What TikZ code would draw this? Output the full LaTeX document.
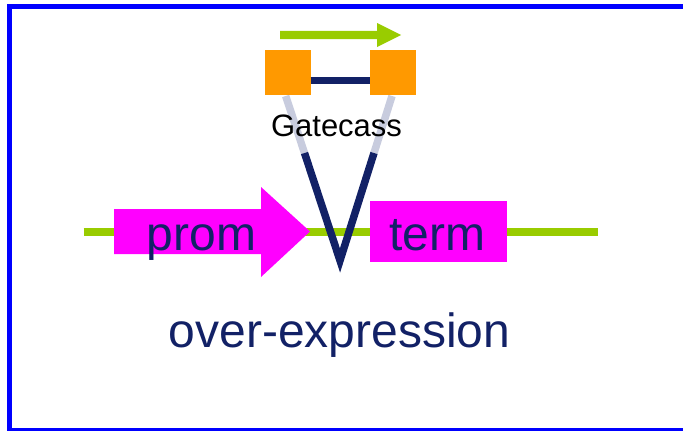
\documentclass[tikz,border=0pt]{standalone}
\usepackage{fontspec}
\setmainfont{Liberation Sans}
\definecolor{navy}{RGB}{18,33,102}
\definecolor{lgreen}{RGB}{153,204,0}
\definecolor{orng}{RGB}{255,153,0}
\definecolor{mag}{RGB}{255,0,255}
\definecolor{lgray}{RGB}{200,204,222}
\tikzset{
  bigtext/.style={font=\fontsize{48}{56}\selectfont, text=navy, inner sep=0pt, anchor=base},
  smalltext/.style={font=\fontsize{31}{36}\selectfont, text=black, inner sep=0pt, anchor=base},
  site/.style={fill=orng, draw=none, minimum width=45.5pt, minimum height=45pt, inner sep=0pt},
  vline/.style={line width=7.5pt, line join=miter},
}
\begin{document}
\begin{tikzpicture}[x=1pt,y=-1pt]
\useasboundingbox (0,0) rectangle (683,431);
\begin{scope}
\clip (0,0) rectangle (683,431);
% frame
\draw[blue, line width=5pt] (9.5,6.5) -- (720,6.5);
\draw[blue, line width=5pt] (9.5,4) -- (9.5,430.5);
\draw[blue, line width=5pt] (7,430.5) -- (720,430.5);
\end{scope}
% DNA line
\coordinate (dnaL) at (83.5,231.5);
\coordinate (dnaR) at (597.5,231.5);
\draw[lgreen, line width=8pt] (dnaL) -- (dnaR);
% promoter arrow
\fill[mag] (114,209) -- (261,209) -- (261,187) -- (310,231.5) -- (261,277) -- (261,254) -- (114,254) -- cycle;
% terminator box
\node[fill=mag, minimum width=136.5pt, minimum height=61pt, inner sep=0pt] (termbox) at (438.25,231.5) {};
% insertion V
\coordinate (lt) at (285.7,96);
\coordinate (lm) at (304.5,153);
\coordinate (tip) at (340,260.5);
\coordinate (rm) at (374,153);
\coordinate (rt) at (392,96);
\draw[lgray, vline] (lt) -- (lm);
\draw[lgray, vline] (rt) -- (rm);
\draw[navy, vline] (lm) -- (tip) -- (rm);
% gateway cassette
\node[site] (L) at (287.75,72.5) {};
\node[site] (R) at (393,72.5) {};
\coordinate (bar) at (0,80.5);
\draw[navy, line width=7pt] (L.east |- bar) -- (R.west |- bar);
% green direction arrow
\fill[lgreen] (280,30.8) -- (377,30.8) -- (377,23) -- (401,35) -- (377,47) -- (377,39.2) -- (280,39.2) -- cycle;
% texts
\node[bigtext] (prom) at (201.5,250.5) {prom};
\node[bigtext] (term) at (437.5,250) {term};
\node[bigtext] (over) at (339.5,347) {over-expression};
\node[smalltext] (gate) at (336.5,136) {Gatecass};
\end{tikzpicture}
\end{document}
